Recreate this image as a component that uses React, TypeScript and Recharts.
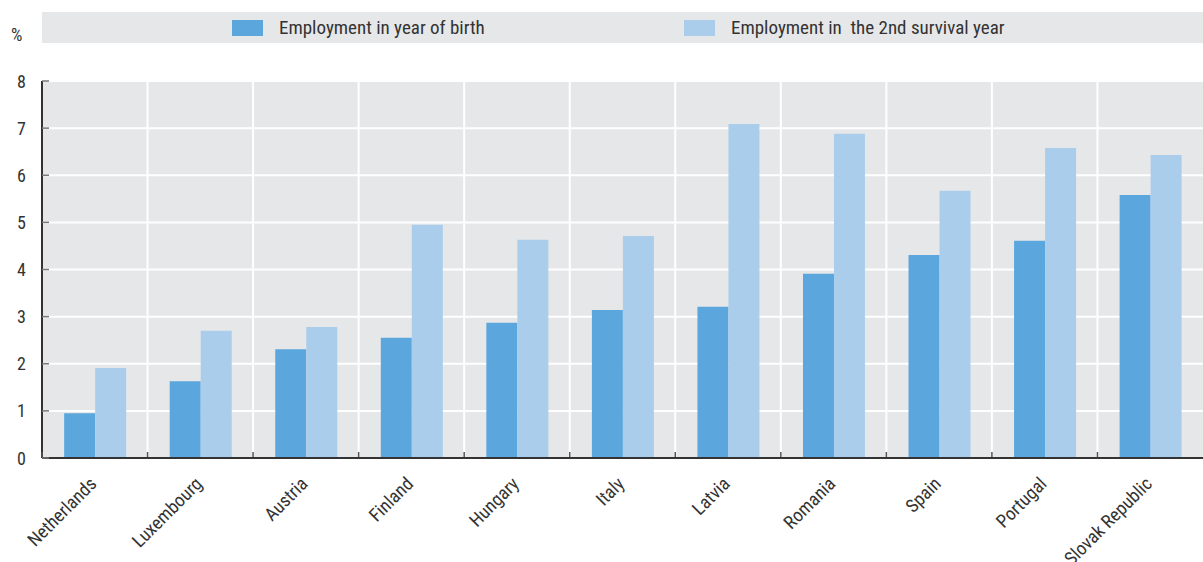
import React from 'react';
import { BarChart, Bar, XAxis, YAxis, CartesianGrid, Legend } from 'recharts';

const countries = ['Netherlands', 'Luxembourg', 'Austria', 'Finland', 'Hungary', 'Italy', 'Latvia', 'Romania', 'Spain', 'Portugal', 'Slovak Republic'];
const birthYear = [0.95, 1.63, 2.31, 2.55, 2.87, 3.14, 3.21, 3.91, 4.31, 4.61, 5.58];
const secondYear = [1.91, 2.70, 2.78, 4.95, 4.63, 4.71, 7.09, 6.88, 5.67, 6.58, 6.43];
const yTicks = [0, 1, 2, 3, 4, 5, 6, 7, 8];
const seriesNames = ['Employment in year of birth', 'Employment in  the 2nd survival year'];
const colors = ['#5ba7dd', '#abcdec'];

const data = countries.map((c, i) => ({ country: c, birth: birthYear[i], second: secondYear[i] }));

const W = 1203;
const H = 562;
const LEGEND_H = 31;
const M = { top: 81 - LEGEND_H, right: 0, bottom: 4, left: 0 };
const YW = 42;
const plotW = W - YW;
const catW = plotW / countries.length;
const FONT = '"Liberation Sans Narrow", "Arial Narrow", "Roboto Condensed", Roboto, sans-serif';

const XTick = (props: any) => {
  const { x, y, payload } = props;
  const tx = x + 3;
  const ty = y + 27;
  return (
    <g>
      <line x1={x - catW / 2} x2={x - catW / 2} y1={y - 6} y2={y - 1} stroke="#555" strokeWidth={1.5} />
      <text
        x={tx}
        y={ty}
        textAnchor="end"
        fill="#333"
        fontSize={18.5}
        fontFamily={FONT}
        transform={`rotate(-45 ${tx} ${ty})`}
      >
        {payload.value}
      </text>
    </g>
  );
};

const YTick = (props: any) => {
  const { x, y, payload } = props;
  return (
    <g>
      <line x1={x + 16} x2={x + 23} y1={y} y2={y} stroke="#777" strokeWidth={1.5} />
      <text x={x} y={y} dy={6.5} textAnchor="end" fill="#333" fontSize={18} fontFamily={FONT}>
        {payload.value}
      </text>
    </g>
  );
};

const LegendContent = () => (
  <div
    style={{
      background: '#e6e7e9',
      height: LEGEND_H,
      width: W - 42,
      position: 'relative',
      fontFamily: FONT,
      fontSize: 19,
      color: '#333',
    }}
  >
    {seriesNames.map((n, i) => (
      <div
        key={n}
        style={{ position: 'absolute', left: i === 0 ? 190 : 642, top: 0, height: LEGEND_H, display: 'flex', alignItems: 'center' }}
      >
        <span style={{ display: 'inline-block', width: 31, height: 16, background: colors[i], marginRight: 16 }} />
        <span style={{ whiteSpace: 'pre' }}>{n}</span>
      </div>
    ))}
  </div>
);

export default function App() {
  return (
    <div style={{ position: 'absolute', left: 0, top: 0, width: W, height: H, background: '#fff' }}>
      <div style={{ position: 'absolute', left: 11, top: 24, fontFamily: FONT, fontSize: 18, color: '#333' }}>%</div>
      <BarChart width={W} height={H} data={data} margin={M} barCategoryGap="21%" barGap={0}>
        <CartesianGrid
          fill="#e6e7e9"
          stroke="#ffffff"
          strokeWidth={2}
          verticalCoordinatesGenerator={({ offset }: any) =>
            countries.map((_, i) => offset.left + (i * offset.width) / countries.length).slice(1)
          }
        />
        <XAxis
          dataKey="country"
          interval={0}
          tick={<XTick />}
          tickLine={false}
          tickSize={0}
          tickMargin={0}
          axisLine={{ stroke: '#333', strokeWidth: 2 }}
          height={100}
        />
        <YAxis
          domain={[0, 8]}
          ticks={yTicks}
          interval={0}
          tick={<YTick />}
          tickLine={false}
          tickSize={0}
          tickMargin={16}
          width={YW}
          axisLine={{ stroke: '#333', strokeWidth: 2 }}
        />
        <Legend
          verticalAlign="top"
          content={<LegendContent />}
          wrapperStyle={{ position: 'absolute', top: 12, left: 42, width: W - 42, height: LEGEND_H }}
        />
        <Bar dataKey="birth" name={seriesNames[0]} fill={colors[0]} isAnimationActive={false} />
        <Bar dataKey="second" name={seriesNames[1]} fill={colors[1]} isAnimationActive={false} />
      </BarChart>
    </div>
  );
}
